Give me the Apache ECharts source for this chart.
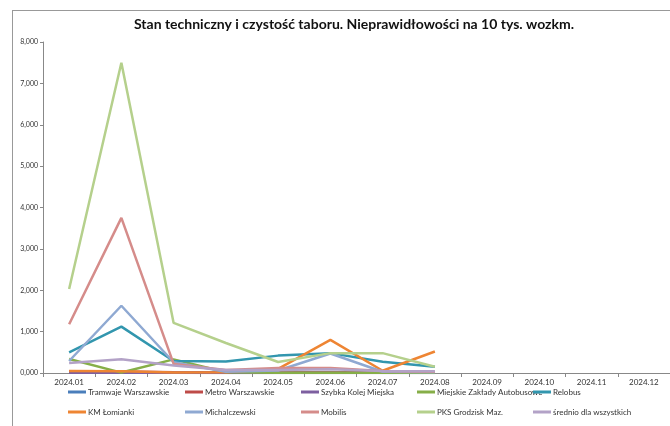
<!DOCTYPE html>
<html><head><meta charset="utf-8">
<script src="https://cdn.jsdelivr.net/npm/echarts@6/dist/echarts.min.js"></script>
<style>html,body{margin:0;padding:0;background:#fff}#c{width:670px;height:426px}</style>
</head><body><div id="c"></div>
<script>
var categories = ['2024.01','2024.02','2024.03','2024.04','2024.05','2024.06','2024.07','2024.08','2024.09','2024.10','2024.11','2024.12'];
var yTicks = [0,1000,2000,3000,4000,5000,6000,7000,8000];
var seriesNames = ['Tramwaje Warszawskie','Metro Warszawskie','Szybka Kolej Miejska','Miejskie Zakłady Autobusowe','Relobus','KM Łomianki','Michalczewski','Mobilis','PKS Grodzisk Maz.','średnio dla wszystkich'];
var tramwaje = [15,12,10,8,8,8,6,6,null,null,null,null];
var metro = [40,35,20,15,15,12,10,10,null,null,null,null];
var skm = [5,5,4,3,3,3,3,3,null,null,null,null];
var mza = [340,10,330,20,8,8,6,5,null,null,null,null];
var relobus = [500,1120,290,280,420,480,270,150,null,null,null,null];
var lomianki = [50,40,10,20,100,800,55,520,null,null,null,null];
var michalczewski = [290,1625,260,30,60,470,30,20,null,null,null,null];
var mobilis = [1180,3750,220,70,120,120,50,30,null,null,null,null];
var pks = [2030,7500,1210,725,265,480,480,150,null,null,null,null];
var srednio = [240,330,180,70,70,90,50,40,null,null,null,null];
var colors = ['#4A7EBB','#BE4B48','#7D5FA0','#86AE48','#3296AE','#EE8533','#8FA9D2','#D58C8A','#B5D08C','#B3A2C7'];
var allData = [tramwaje,metro,skm,mza,relobus,lomianki,michalczewski,mobilis,pks,srednio];

var chart = echarts.init(document.getElementById('c'));
var series = seriesNames.map(function(n,i){
  return {name:n,type:'line',data:allData[i],showSymbol:false,symbol:'none',
    lineStyle:{width:2.5,color:colors[i]},itemStyle:{color:colors[i]},connectNulls:false};
});
var legends = [];
var colX = [68,185,301,417,533];
for (var c=0;c<5;c++){
  legends.push({orient:'vertical',left:colX[c],top:387,padding:0,itemWidth:18,itemHeight:3,itemGap:10,
    icon:'rect',data:[seriesNames[c],seriesNames[c+5]],
    textStyle:{fontSize:8,color:'#333',fontFamily:'Lato, sans-serif',lineHeight:10,padding:[0,0,0,-3]},
    selectedMode:false});
}
chart.setOption({
  animation:false,
  color:colors,
  title:{text:'Stan techniczny i czystość taboru. Nieprawidłowości na 10 tys. wozkm.',
    left:349,top:12,textAlign:'center',
    textStyle:{fontSize:14,fontWeight:'bold',color:'#111',fontFamily:'Lato, sans-serif'}},
  legend:legends,
  grid:{left:43,top:42,width:633,height:331,containLabel:false},
  xAxis:{type:'category',data:categories,boundaryGap:true,
    axisLine:{lineStyle:{color:'#888',width:1}},
    axisTick:{show:true,alignWithLabel:false,length:4,lineStyle:{color:'#888'}},
    axisLabel:{fontSize:8,color:'#333',margin:5,fontFamily:'Lato, sans-serif',interval:0}},
  yAxis:{type:'value',min:0,max:8000,interval:1000,
    axisLine:{show:true,lineStyle:{color:'#888',width:1}},
    axisTick:{show:true,length:3,lineStyle:{color:'#888'}},
    splitLine:{show:false},
    axisLabel:{fontSize:7,color:'#333',margin:5,fontFamily:'Lato, sans-serif',
      formatter:function(v){var t=Math.floor(v/1000);var r=String(v%1000);while(r.length<3)r='0'+r;return t+','+r;}}},
  graphic:[
    {type:'line',shape:{x1:12.5,y1:10,x2:12.5,y2:426},style:{stroke:'#999',lineWidth:1},silent:true},
    {type:'line',shape:{x1:12,y1:10.5,x2:670,y2:10.5},style:{stroke:'#999',lineWidth:1},silent:true}
  ],
  series:series
});
</script></body></html>
